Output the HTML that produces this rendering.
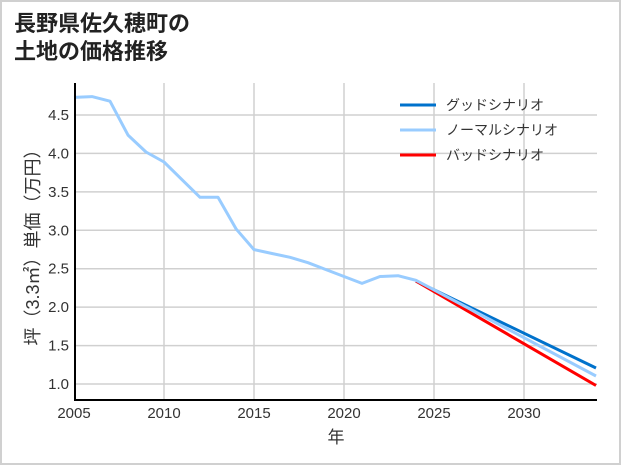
<!DOCTYPE html>
<html><head><meta charset="utf-8"><style>
body{margin:0;background:#fff}
svg{display:block}
text{font-family:"Liberation Sans","Noto Sans CJK JP",sans-serif}
</style></head><body>
<svg width="621" height="465" viewBox="0 0 621 465">
<rect x="1" y="1" width="619" height="463" fill="#fff" stroke="#d0d0d0" stroke-width="2"/>
<text x="14" y="31" font-size="22" font-weight="bold" fill="#222">長野県佐久穂町の</text>
<text x="14" y="59" font-size="22" font-weight="bold" fill="#222">土地の価格推移</text>
<g stroke="#d0d0d0" stroke-width="1.5">
<line x1="75" x2="597" y1="384" y2="384"/><line x1="75" x2="597" y1="345.6" y2="345.6"/>
<line x1="75" x2="597" y1="307.1" y2="307.1"/><line x1="75" x2="597" y1="268.7" y2="268.7"/>
<line x1="75" x2="597" y1="230.3" y2="230.3"/><line x1="75" x2="597" y1="191.9" y2="191.9"/>
<line x1="75" x2="597" y1="153.4" y2="153.4"/><line x1="75" x2="597" y1="115" y2="115"/>
<line x1="164" x2="164" y1="83" y2="400"/><line x1="254" x2="254" y1="83" y2="400"/>
<line x1="344" x2="344" y1="83" y2="400"/><line x1="434" x2="434" y1="83" y2="400"/>
<line x1="524" x2="524" y1="83" y2="400"/>
</g>
<g fill="none" stroke-width="3" stroke-linejoin="round">
<polyline stroke="#0072cc" points="416,281.1 596,368"/>
<polyline stroke="#ff0000" points="416,281.1 596,385.5"/>
<polyline stroke="#99ccff" points="74,97.4 92,96.6 110,101.2 128,135.1 146,152 164,162 182,179.7 200,197.3 218,197.3 236,228.8 254,249.6 272,253.5 290,257.3 308,262.7 326,269.6 344,276.5 362,283.4 380,276.5 398,275.7 416,280.3 596,376"/>
</g>
<line x1="75" y1="83" x2="75" y2="401" stroke="#000" stroke-width="2"/>
<line x1="74" y1="400" x2="597" y2="400" stroke="#000" stroke-width="2"/>
<g font-size="15" fill="#333" text-anchor="end">
<text x="69" y="389">1.0</text><text x="69" y="350.6">1.5</text><text x="69" y="312.1">2.0</text>
<text x="69" y="273.7">2.5</text><text x="69" y="235.3">3.0</text><text x="69" y="196.9">3.5</text>
<text x="69" y="158.4">4.0</text><text x="69" y="120">4.5</text>
</g>
<g font-size="15" fill="#333" text-anchor="middle">
<text x="74" y="418">2005</text><text x="164" y="418">2010</text><text x="254" y="418">2015</text>
<text x="344" y="418">2020</text><text x="434" y="418">2025</text><text x="524" y="418">2030</text>
<text x="336" y="443" font-size="17">年</text>
</g>
<text transform="translate(39,243) rotate(-90)" font-size="18" fill="#333" text-anchor="middle">坪（3.3㎡）単価（万円）</text>
<g stroke-width="3">
<line x1="400" x2="436" y1="105" y2="105" stroke="#0072cc"/>
<line x1="400" x2="436" y1="130" y2="130" stroke="#99ccff"/>
<line x1="400" x2="436" y1="155" y2="155" stroke="#ff0000"/>
</g>
<g font-size="14" fill="#333">
<text x="446" y="110">グッドシナリオ</text>
<text x="446" y="135">ノーマルシナリオ</text>
<text x="446" y="160">バッドシナリオ</text>
</g>
</svg>
</body></html>
